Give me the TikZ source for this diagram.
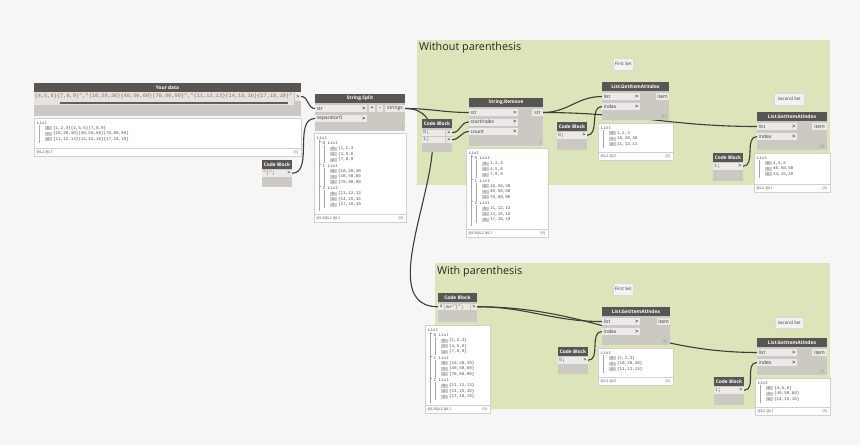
\documentclass[tikz,border=0pt]{standalone}
\usepackage{fontspec}
\setmainfont{Open Sans}
\newfontfamily\monof{Liberation Mono}
\pgfdeclarelayer{bglayer}
\pgfdeclarelayer{wirelayer}
\pgfsetlayers{bglayer,wirelayer,main}
\definecolor{canvas}{RGB}{246,246,246}
\definecolor{grp}{RGB}{220,229,186}
\definecolor{headc}{RGB}{88,86,84}
\definecolor{bodyc}{RGB}{204,200,194}
\definecolor{portc}{RGB}{235,234,232}
\definecolor{wirec}{RGB}{60,60,60}
\definecolor{txtc}{RGB}{55,55,55}
\definecolor{strc}{RGB}{160,100,62}
\definecolor{numc}{RGB}{50,115,210}
\definecolor{pborder}{RGB}{208,208,208}
\definecolor{idxc}{RGB}{205,205,205}
\definecolor{redc}{RGB}{200,60,60}
\definecolor{notec}{RGB}{243,243,243}
\definecolor{fieldc}{RGB}{228,227,225}
\definecolor{barc}{RGB}{96,96,96}
\tikzset{
  wire/.style={draw=wirec,line width=1.1pt},
  grpbox/.style={fill=grp,anchor=north west,inner sep=0pt,outer sep=0pt},
  gtitle/.style={font=\fontsize{10.8}{12}\selectfont,text=black!85,inner sep=0pt,anchor=base west},
  note/.style={fill=notec,draw=black!15,line width=0.4pt,anchor=north west,inner sep=0pt,font=\fontsize{4.5}{5}\selectfont,text=txtc},
  dbody/.style={fill=bodyc,anchor=north west,inner sep=0pt,outer sep=0pt},
  dhead/.style={fill=headc,text=white,font=\fontsize{4.8}{5}\selectfont\bfseries,anchor=north west,inner sep=0pt,outer sep=0pt,minimum height=9pt},
  dport/.style={fill=portc,anchor=north west,inner sep=0pt,outer sep=0pt,minimum height=7pt},
  plabel/.style={font=\fontsize{5}{5}\selectfont,text=txtc,inner sep=0pt,anchor=west},
  parrow/.style={font=\fontsize{5.5}{5}\selectfont\bfseries,text=txtc,inner sep=0pt,anchor=east},
  cout/.style={dport,anchor=north east,minimum width=6pt,minimum height=6.5pt,font=\fontsize{5}{5}\selectfont\bfseries,text=txtc},
  ctext/.style={font=\monof\fontsize{5}{5}\selectfont,inner sep=0pt,anchor=west,text=txtc},
  lacing/.style={font=\fontsize{3.5}{4}\selectfont,text=black!55,inner sep=0pt,anchor=south east},
  pbox/.style={fill=white,draw=pborder,line width=0.5pt,anchor=north west,inner sep=0pt,outer sep=0pt},
  ptext/.style={font=\monof\fontsize{4.2}{5}\selectfont,text=black!70,inner sep=0pt,anchor=west},
  pidx/.style={fill=idxc,text=black!55,font=\monof\fontsize{3.6}{4}\selectfont,inner sep=0pt,minimum width=7pt,minimum height=4pt},
  ptog/.style={font=\fontsize{5}{5}\selectfont\bfseries,text=numc,inner sep=0pt},
  pfoot/.style={font=\fontsize{3.8}{4}\selectfont,text=black!70,inner sep=0pt},
  tree/.style={draw=black!35,line width=0.35pt},
}
\newcommand{\ty}[2]{#1+4.5+5.6*(#2)}
\newcommand{\dnode}[6]{%
  \node[dbody,minimum width=#4pt,minimum height=#5pt] (#1) at (#2,#3) {};
  \node[dhead,minimum width=#4pt] (#1-h) at (#2,#3) {#6};}
\newcommand{\din}[5]{%
  \node[dport,minimum width=#4pt] (#1) at (#2,#3) {};
  \node[plabel] (#1-l) at ([xshift=1.5pt]#1.west) {#5};
  \node[parrow] (#1-a) at ([xshift=-1.2pt]#1.east) {>};}
\newcommand{\dout}[5]{%
  \node[dport,anchor=north east,minimum width=#4pt] (#1) at (#2,#3) {};
  \node[plabel,anchor=center] (#1-l) at (#1.center) {#5};}
\newcommand{\cblock}[5]{%
  \dnode{#1}{#2}{#3}{30}{#4}{Code Block}
  \node[dport,minimum width=24pt,minimum height=6.5pt] (#1-r) at (#2,#3+10) {};
  \node[ctext] (#1-c) at ([xshift=1pt]#1-r.west) {#5};
  \node[cout] (#1-o) at (#2+30,#3+10) {>};}
\newcommand{\pbox}[7]{%
  \node[pbox,minimum width=#4pt,minimum height=#5pt] (#1) at (#2,#3) {};
  \draw[draw=pborder,line width=0.4pt] (#2,#3+#5-8) -- (#2+#4,#3+#5-8);
  \node[pfoot,anchor=west] (#1-fl) at (#2+2.5,#3+#5-4) {#6};
  \node[pfoot,anchor=east,text=redc] (#1-fr) at (#2+#4-2.5,#3+#5-4) {#7};}
\newcommand{\flatlist}[6]{%
  \node[ptext] (#1-L) at ({#2+3},{\ty{#3}{0}}) {List};
  \draw[tree] ({#2+5},{\ty{#3}{0}+2}) -- ({#2+5},{\ty{#3}{3}+3}) -- ++(1.2,0);
  \node[pidx] (#1-i0) at ({#2+14},{\ty{#3}{1}}) {0};
  \node[ptext] (#1-t0) at ({#2+19},{\ty{#3}{1}}) {#4};
  \node[pidx] (#1-i1) at ({#2+14},{\ty{#3}{2}}) {1};
  \node[ptext] (#1-t1) at ({#2+19},{\ty{#3}{2}}) {#5};
  \node[pidx] (#1-i2) at ({#2+14},{\ty{#3}{3}}) {2};
  \node[ptext] (#1-t2) at ({#2+19},{\ty{#3}{3}}) {#6};}
\newcommand{\nestframe}[3]{%
  \node[ptext] (#1-L) at ({#2+3},{\ty{#3}{0}}) {List};
  \draw[tree] ({#2+5},{\ty{#3}{0}+2}) -- ({#2+5},{\ty{#3}{13}}) -- ++(1.2,0);}
\newcommand{\nestgroup}[7]{%
  \pgfmathtruncatemacro\kk{1+4*#4}%
  \node[ptog] (#1-m) at ({#2+6.5},{\ty{#3}{\kk}}) {-};
  \node[ptext] (#1-h) at ({#2+8.5},{\ty{#3}{\kk}}) {#4 List};
  \draw[tree] ({#2+10},{\ty{#3}{\kk}+2}) -- ({#2+10},{\ty{#3}{\kk+3}+2.5}) -- ++(1.2,0);
  \node[pidx] (#1-i0) at ({#2+19},{\ty{#3}{\kk+1}}) {0};
  \node[ptext] (#1-t0) at ({#2+24},{\ty{#3}{\kk+1}}) {#5};
  \node[pidx] (#1-i1) at ({#2+19},{\ty{#3}{\kk+2}}) {1};
  \node[ptext] (#1-t1) at ({#2+24},{\ty{#3}{\kk+2}}) {#6};
  \node[pidx] (#1-i2) at ({#2+19},{\ty{#3}{\kk+3}}) {2};
  \node[ptext] (#1-t2) at ({#2+24},{\ty{#3}{\kk+3}}) {#7};}
\begin{document}
\begin{tikzpicture}[x=1pt,y=-1pt]
\useasboundingbox (0,0) rectangle (860,445);
\begin{pgfonlayer}{bglayer}
  \fill[canvas] (0,0) rectangle (860,445);
  \node[grpbox,minimum width=413pt,minimum height=145pt] (grp1) at (417,40) {};
  \node[grpbox,minimum width=395pt,minimum height=146pt] (grp2) at (435,263) {};
\end{pgfonlayer}
\node[gtitle] (grp1-t) at (419,50.5) {Without parenthesis};
\node[gtitle] (grp2-t) at (437,274.5) {With parenthesis};

% Your data
\dnode{yd}{34}{83}{267}{33}{Your data}
\node[dport,fill=fieldc,minimum width=260pt,minimum height=13pt] (yd-f) at (34,92) {};
\begin{scope}
  \clip (34,92) rectangle (294,105);
  \node[ctext,text=strc,font=\monof\fontsize{5.3}{6}\selectfont] (yd-t) at (34.5,96.5) {\{4,5,6\}\{7,8,9\}","\{10,20,30\}\{40,50,60\}\{70,80,90\}","\{11,12,13\}\{14,15,16\}\{17,18,19\}"};
\end{scope}
\node[fill=barc,anchor=north west,inner sep=0pt,minimum width=228pt,minimum height=2pt] (yd-s) at (60,101.8) {};
\node[cout,minimum height=9pt] (yd-o) at (301,92) {>};
\pbox{ydv}{34}{118}{267}{38}{@L2 @L1}{\{3\}}
\flatlist{ydv}{34}{118}{\{1,2,3\}\{4,5,6\}\{7,8,9\}}{\{10,20,30\}\{40,50,60\}\{70,80,90\}}{\{11,12,13\}\{14,15,16\}\{17,18,19\}}

% separator code block
\cblock{cb0}{262}{160}{27}{{\color{strc}"\}"};}

% String.Split
\dnode{sp}{315}{94}{90}{37}{String.Split}
\din{sp-str}{315}{105}{52}{str}
\din{sp-sep}{315}{115}{52}{separator0}
\node[dport,minimum width=6pt,font=\fontsize{5}{5}\selectfont\bfseries,text=txtc] (sp-plus) at (369,105) {+};
\node[dport,minimum width=6pt,font=\fontsize{5}{5}\selectfont\bfseries,text=txtc] (sp-minus) at (377,105) {-};
\dout{sp-o}{405}{105}{20}{strings}
\node[lacing] (sp-lac) at (404,130.5) {|};
\pbox{spv}{314}{133}{92}{89}{@L3@L2 @L1}{\{9\}}
\nestframe{spv}{314}{133}
\nestgroup{spv-a}{314}{133}{0}{\{1,2,3}{\{4,5,6}{\{7,8,9}
\nestgroup{spv-b}{314}{133}{1}{\{10,20,30}{\{40,50,60}{\{70,80,90}
\nestgroup{spv-c}{314}{133}{2}{\{11,12,13}{\{14,15,16}{\{17,18,19}

% Code block 0;1;
\dnode{cb1}{422}{119}{30}{33}{Code Block}
\node[dport,minimum width=23pt,minimum height=6.3pt] (cb1-r0) at (422,129.5) {};
\node[ctext] (cb1-c0) at ([xshift=1pt]cb1-r0.west) {{\color{numc}0};};
\node[cout,minimum height=6.3pt] (cb1-o0) at (452,129.5) {>};
\node[dport,minimum width=23pt,minimum height=6.3pt] (cb1-r1) at (422,136.5) {};
\node[ctext] (cb1-c1) at ([xshift=1pt]cb1-r1.west) {{\color{numc}1};};
\node[cout,minimum height=6.3pt] (cb1-o1) at (452,136.5) {>};

% String.Remove
\dnode{rm}{469}{98}{74}{48}{String.Remove}
\din{rm-str}{469}{109}{49}{str}
\din{rm-si}{469}{118.5}{49}{startIndex}
\din{rm-ct}{469}{128}{49}{count}
\dout{rm-o}{543}{109}{11}{str}
\node[lacing] (rm-lac) at (542,145) {|};
\pbox{rmv}{466}{148}{82}{89}{@L3@L2 @L1}{\{9\}}
\nestframe{rmv}{466}{148}
\nestgroup{rmv-a}{466}{148}{0}{1,2,3}{4,5,6}{7,8,9}
\nestgroup{rmv-b}{466}{148}{1}{10,20,30}{40,50,60}{70,80,90}
\nestgroup{rmv-c}{466}{148}{2}{11,12,13}{14,15,16}{17,18,19}

% First set (group 1)
\node[note,minimum width=20pt,minimum height=12pt] (n1) at (613,58) {First Set};
\dnode{g1}{602}{82}{67}{38}{List.GetItemAtIndex}
\din{g1-l}{602}{93}{38}{list}
\din{g1-i}{602}{103}{38}{index}
\dout{g1-o}{669}{93}{13}{item}
\node[lacing] (g1-lac) at (667,119) {|||};
\pbox{g1v}{598}{123}{75}{37}{@L2 @L1}{\{3\}}
\flatlist{g1v}{598}{123}{1,2,3}{10,20,30}{11,12,13}
\cblock{cbA}{557}{122}{28}{{\color{numc}0};}

% Second set (group 1)
\node[note,minimum width=30pt,minimum height=12pt] (n2) at (774,93) {Second Set};
\dnode{g2}{757}{112}{70}{38}{List.GetItemAtIndex}
\din{g2-l}{757}{123}{40}{list}
\din{g2-i}{757}{133}{40}{index}
\dout{g2-o}{827}{123}{15}{item}
\node[lacing] (g2-lac) at (825,149) {|||};
\pbox{g2v}{754}{153}{76}{39}{@L2 @L1}{\{3\}}
\flatlist{g2v}{754}{153}{4,5,6}{40,50,60}{14,15,16}
\cblock{cbB}{713}{153}{28}{{\color{numc}1};}

% Code block a+"}"
\dnode{cb2}{438}{293}{39}{29}{Code Block}
\node[dport,minimum width=6pt,minimum height=6.5pt,font=\fontsize{4.5}{5}\selectfont,text=txtc] (cb2-a) at (438,303.5) {a};
\node[dport,minimum width=25pt,minimum height=6.5pt] (cb2-r) at (445,303.5) {};
\node[ctext] (cb2-c) at ([xshift=1pt]cb2-r.west) {a+{\color{strc}"\}"};};
\node[cout] (cb2-o) at (477,303.5) {>};
\pbox{cb2v}{425}{325}{65}{88}{@L3@L2 @L1}{\{9\}}
\nestframe{cb2v}{425}{325}
\nestgroup{cb2v-a}{425}{325}{0}{\{1,2,3\}}{\{4,5,6\}}{\{7,8,9\}}
\nestgroup{cb2v-b}{425}{325}{1}{\{10,20,30\}}{\{40,50,60\}}{\{70,80,90\}}
\nestgroup{cb2v-c}{425}{325}{2}{\{11,12,13\}}{\{14,15,16\}}{\{17,18,19\}}

% First set (group 2)
\node[note,minimum width=20pt,minimum height=12pt] (n3) at (613,283) {First Set};
\dnode{g3}{602}{307}{68}{38}{List.GetItemAtIndex}
\din{g3-l}{602}{318}{38}{list}
\din{g3-i}{602}{328}{38}{index}
\dout{g3-o}{670}{318}{13}{item}
\node[lacing] (g3-lac) at (668,344) {|||};
\pbox{g3v}{598}{348}{75}{37}{@L2 @L1}{\{3\}}
\flatlist{g3v}{598}{348}{\{1,2,3\}}{\{10,20,30\}}{\{11,12,13\}}
\cblock{cbC}{558}{347}{27}{{\color{numc}0};}

% Second set (group 2)
\node[note,minimum width=28pt,minimum height=11pt] (n4) at (775,317) {Second Set};
\dnode{g4}{757}{338}{70}{37}{List.GetItemAtIndex}
\din{g4-l}{757}{349}{40}{list}
\din{g4-i}{757}{359}{40}{index}
\dout{g4-o}{827}{349}{15}{item}
\node[lacing] (g4-lac) at (825,374) {|||};
\pbox{g4v}{755}{378}{75}{37}{@L2 @L1}{\{3\}}
\flatlist{g4v}{755}{378}{\{4,5,6\}}{\{40,50,60\}}{\{14,15,16\}}
\cblock{cbD}{714}{377}{28}{{\color{numc}1};}

% wires
\begin{pgfonlayer}{wirelayer}
  \draw[wire] (yd-o.east) .. controls +(8,0) and +(-8,0) .. (sp-str.west);
  \draw[wire] (cb0-o.east) .. controls +(22,0) and +(-22,0) .. (sp-sep.west);
  \draw[wire] (sp-o.east) .. controls +(26,0) and +(-26,0) .. (rm-str.west);
  \draw[wire] (sp-o.east) .. controls +(80,0) and +(-80,0) .. (cb2-a.west);
  \draw[wire] (cb1-o0.east) .. controls +(9,0) and +(-9,0) .. (rm-si.west);
  \draw[wire] (cb1-o1.east) .. controls +(8,0) and +(-8,0) .. (rm-ct.west);
  \draw[wire] (rm-o.east) .. controls +(25,0) and +(-25,0) .. (g1-l.west);
  \draw[wire] (rm-o.east) .. controls +(86,0) and +(-86,0) .. (g2-l.west);
  \draw[wire] (cbA-o.east) .. controls +(13,0) and +(-13,0) .. (g1-i.west);
  \draw[wire] (cbB-o.east) .. controls +(13,0) and +(-13,0) .. (g2-i.west);
  \draw[wire] (cb2-o.east) .. controls +(50,0) and +(-50,0) .. (g3-l.west);
  \draw[wire] (cb2-o.east) .. controls +(113,0) and +(-113,0) .. (g4-l.west);
  \draw[wire] (cbC-o.east) .. controls +(13,0) and +(-13,0) .. (g3-i.west);
  \draw[wire] (cbD-o.east) .. controls +(13,0) and +(-13,0) .. (g4-i.west);
\end{pgfonlayer}
\end{tikzpicture}
\end{document}
